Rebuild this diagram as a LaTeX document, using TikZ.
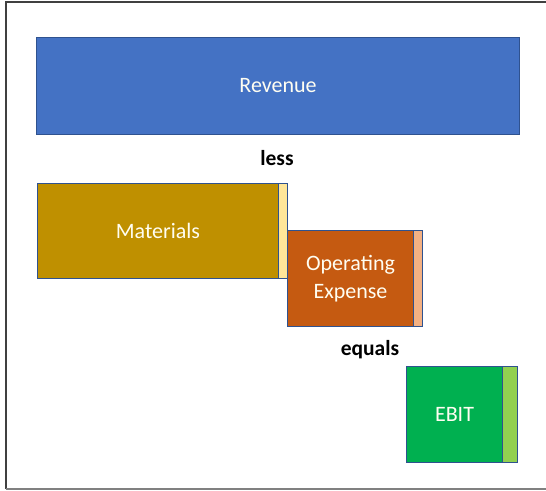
\documentclass[tikz,border=0pt]{standalone}
\usepackage{fontspec}
\setmainfont{Carlito}
\definecolor{revblue}{HTML}{4472C4}
\definecolor{edgeblue}{HTML}{2F528F}
\definecolor{matgold}{HTML}{BF9000}
\definecolor{matlight}{HTML}{FFE699}
\definecolor{opxorange}{HTML}{C55A11}
\definecolor{opxlight}{HTML}{F4B183}
\definecolor{ebitgreen}{HTML}{00B050}
\definecolor{ebitlight}{HTML}{92D050}
\definecolor{frame}{HTML}{404040}
\begin{document}
\begin{tikzpicture}[x=1pt,y=-1pt,
  block/.style={draw=edgeblue, line width=1pt, inner sep=0pt, anchor=north west,
    text=white!95!yellow, font=\fontsize{22}{28}\selectfont, align=center},
  sliver/.style={draw=edgeblue, line width=1pt, inner sep=0pt, anchor=north west},
  word/.style={font=\bfseries\fontsize{21.5}{24}\selectfont, text=black}]
\useasboundingbox (0,0) rectangle (546,490);
\fill[white] (0,0) rectangle (546,490);
% page frame
\draw[frame, line width=2pt] (546,2) -- (6,2) -- (6,489);
\draw[gray, line width=2pt] (6,489) -- (546,489);

% revenue bar
\node[block, fill=revblue, minimum width=483pt, minimum height=97pt] (rev) at (36,37) {Revenue};
\node[word] (less) at (277,158) {less};

% materials with its margin strip
\node[block, fill=matgold, minimum width=241pt, minimum height=95pt] (mat) at (37,183) {Materials};
\node[sliver, fill=matlight, minimum width=9pt, minimum height=95pt] (matx) at (278,183) {};

% operating expense with its margin strip
\node[block, fill=opxorange, minimum width=126pt, minimum height=96pt] (opx) at (287,230) {Operating\\Expense};
\node[sliver, fill=opxlight, minimum width=9pt, minimum height=96pt] (opxx) at (413,230) {};

\node[word] (equals) at (370,350) {equals};

% result
\node[block, fill=ebitgreen, minimum width=96pt, minimum height=96pt] (ebit) at (406,366) {EBIT};
\node[sliver, fill=ebitlight, minimum width=15pt, minimum height=96pt] (ebitx) at (502,366) {};
\end{tikzpicture}
\end{document}
